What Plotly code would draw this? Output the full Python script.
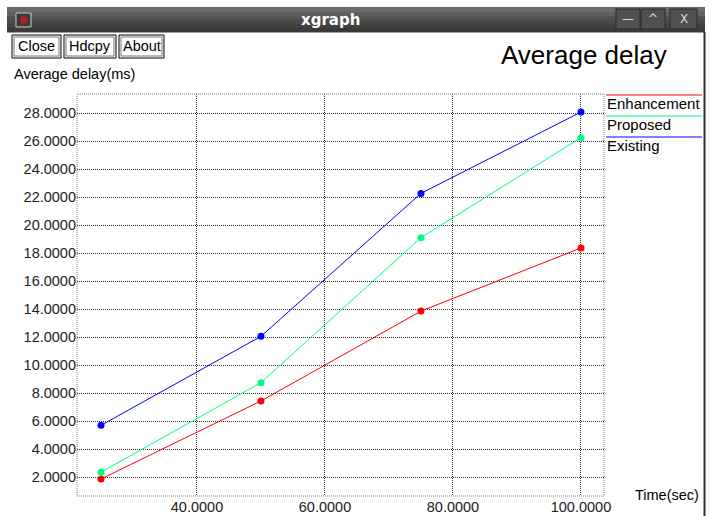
import plotly.graph_objects as go

# ---- data ----
time_sec = [25, 50, 75, 100]
enhancement = [1.86, 7.43, 13.85, 18.36]
proposed = [2.34, 8.74, 19.10, 26.24]
existing = [5.69, 12.05, 22.26, 28.07]
series_names = ["Enhancement", "Proposed", "Existing"]
series_colors = ["#ff0000", "#00ff7f", "#0000ff"]

W, H = 716, 516
L, R, T, B = 77, 604, 94, 496  # plot area in pixels


def xp(px):
    return (px - L) / (R - L)


def yp(py):
    return (B - py) / (B - T)


FONT = "Liberation Sans, Arial, sans-serif"

fig = go.Figure()
for name, ys, col in zip(series_names, [enhancement, proposed, existing], series_colors):
    fig.add_trace(go.Scatter(
        x=time_sec, y=ys, name=name, mode="lines+markers",
        line=dict(color=col, width=1),
        marker=dict(color=col, size=7, symbol="circle"),
        showlegend=False, cliponaxis=False,
    ))

shapes = []
annotations = []


def text(x, y, s, size=13, color="#000000", xanchor="center", yanchor="middle", family=FONT):
    annotations.append(dict(x=xp(x), y=yp(y), xref="paper", yref="paper", text=s,
                            showarrow=False, xanchor=xanchor, yanchor=yanchor,
                            font=dict(family=family, size=size, color=color)))


def rect(x0, y0, x1, y1, fill="rgba(0,0,0,0)", line_color="#000000", lw=1, dash=None, layer="above"):
    ln = dict(color=line_color, width=lw)
    if dash:
        ln["dash"] = dash
    shapes.append(dict(type="rect", xref="paper", yref="paper",
                       x0=xp(x0), x1=xp(x1), y0=yp(y1), y1=yp(y0),
                       line=ln, fillcolor=fill, layer=layer))


# window title bar (approximate gradient with strips)
bar_top, bar_bot = 7, 32
strips = ["#6a6a6a", "#5e5e5e", "#545454", "#4a4a4a", "#424242", "#3a3a3a"]
n = len(strips)
for i, c in enumerate(strips):
    y0 = bar_top + (bar_bot - bar_top) * i / n
    y1 = bar_top + (bar_bot - bar_top) * (i + 1) / n
    rect(7, y0, 705, y1 + 0.5, fill=c, lw=0, line_color=c, layer="below")
# window right border
shapes.append(dict(type="line", xref="paper", yref="paper",
                   x0=xp(704.5), x1=xp(704.5), y0=yp(516), y1=yp(32),
                   line=dict(color="#333333", width=2)))
# icon
rect(16, 13, 31, 27, fill="#3a3a3a", line_color="#cccccc")
shapes.append(dict(type="circle", xref="paper", yref="paper",
                   x0=xp(20), x1=xp(27), y0=yp(24), y1=yp(16),
                   line=dict(width=0), fillcolor="#b02020"))
# window control buttons
for (bx0, bx1, sym) in [(616, 640, "—"), (641, 665, "^"), (670, 697, "X")]:
    rect(bx0, 9, bx1, 29, fill="#505050", line_color="#2a2a2a")
    text((bx0 + bx1) / 2, 19, sym, size=12, color="#d8d8d8", family="DejaVu Sans")
text(330, 20, "<b>xgraph</b>", size=15, color="#ffffff", family="DejaVu Sans")

# xgraph buttons
for (bx0, bx1, label) in [(12, 61, "Close"), (64, 116, "Hdcpy"), (119, 164, "About")]:
    rect(bx0, 35, bx1, 58, fill="#ffffff")
    rect(bx0 + 2, 37, bx1 - 2, 56, line_color="#777777")
    text((bx0 + bx1) / 2, 46.5, label, size=14.5)

# title and axis labels
text(669, 55, "Average delay", size=26, xanchor="right")
text(12, 74, "Average delay(ms)", size=14.5, xanchor="left")
text(701, 495, "Time(sec)", size=14.5, xanchor="right")

# plot border (dotted)
shapes.append(dict(type="rect", xref="paper", yref="paper", x0=0, x1=1, y0=0, y1=1,
                   line=dict(color="#808080", width=1, dash="1px,1px"), layer="below"))

# legend (manual, xgraph style)
for i, (name, col) in enumerate(zip(series_names, series_colors)):
    ly = 95 + i * 21
    shapes.append(dict(type="line", xref="paper", yref="paper",
                       x0=xp(606), x1=xp(702), y0=yp(ly), y1=yp(ly),
                       line=dict(color=col, width=1)))
    text(605, ly + 8.5, name, size=15, xanchor="left")

axis_common = dict(showgrid=True, gridcolor="#333333", gridwidth=1, griddash="1px,1px",
                   zeroline=False, showline=False, ticks="", automargin=False,
                   tickformat=".4f",
                   tickfont=dict(family=FONT, size=14.5, color="#222222"))

fig.update_layout(
    width=W, height=H,
    margin=dict(l=L, r=W - R, t=T, b=H - B, pad=0, autoexpand=False),
    paper_bgcolor="#ffffff", plot_bgcolor="#ffffff",
    shapes=shapes, annotations=annotations,
    showlegend=False,
    xaxis=dict(range=[21.25, 103.6], tick0=0, dtick=20, **axis_common),
    yaxis=dict(range=[0.643, 29.36], tick0=0, dtick=2, **axis_common),
)

fig.write_html("out.html", config={"displayModeBar": False},
               post_script="document.body.style.margin='0';document.body.style.overflow='hidden';")
